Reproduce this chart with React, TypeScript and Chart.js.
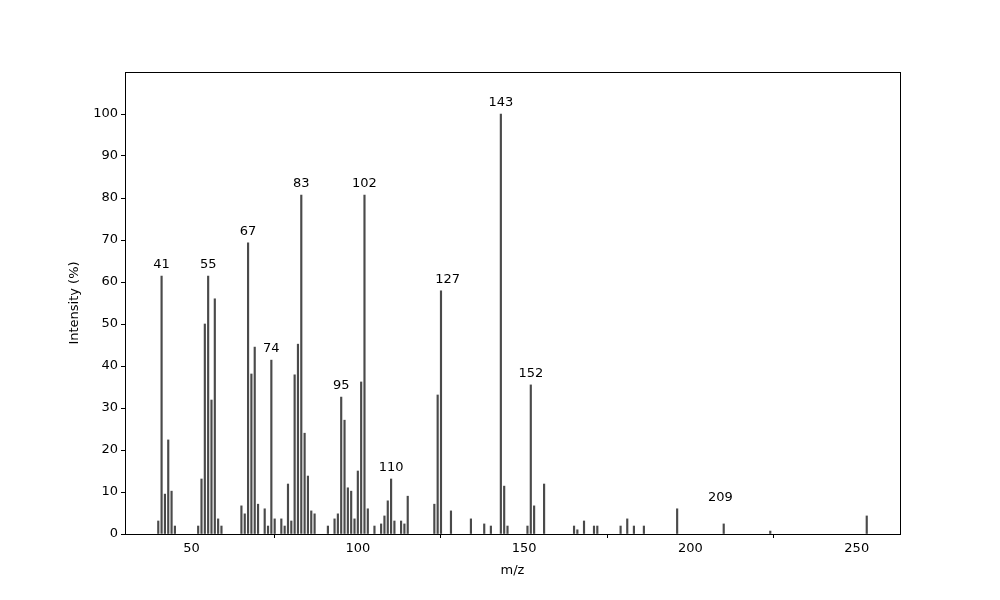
import React, { useEffect, useRef } from "react";
import { Chart, registerables } from "chart.js";

Chart.register(...registerables);

// peak positions (m/z) and relative intensities (%)
const mzValues = [
  40, 41, 42, 43, 44, 45, 52, 53, 54, 55, 56, 57, 58, 59, 65, 66, 67, 68, 69, 70,
  72, 73, 74, 75, 77, 78, 79, 80, 81, 82, 83, 84, 85, 86, 87, 91, 93, 94, 95, 96,
  97, 98, 99, 100, 101, 102, 103, 105, 107, 108, 109, 110, 111, 113, 114, 115,
  123, 124, 125, 128, 134, 138, 140, 143, 144, 145, 151, 152, 153, 156, 165, 166,
  168, 171, 172, 179, 181, 183, 186, 196, 210, 224, 253,
];
const intensities = [
  3.1, 61.4, 9.5, 22.4, 10.2, 1.9, 1.9, 13.1, 50, 61.4, 31.9, 56, 3.6, 1.9, 6.7, 4.8, 69.3, 38.1, 44.5, 7.1,
  6.0, 1.9, 41.4, 3.6, 3.6, 1.9, 11.9, 3.1, 37.9, 45.2, 80.7, 24, 13.8, 5.5, 4.8, 1.9, 3.6, 4.8, 32.6, 27.1,
  11.0, 10.2, 3.6, 15, 36.2, 80.7, 6, 1.9, 2.4, 4.3, 7.9, 13.1, 3.1, 3.1, 2.4, 9.0,
  7.1, 33.1, 57.9, 5.5, 3.6, 2.4, 1.9, 100, 11.4, 1.9, 1.9, 35.5, 6.7, 11.9, 1.9, 1.0,
  3.1, 1.9, 1.9, 1.9, 3.6, 1.9, 1.9, 6.0, 2.4, 0.7, 4.3,
];

// annotated peaks: label text, x position and height the label sits over
const peakLabels = ["41", "55", "67", "74", "83", "95", "102", "110", "127", "143", "152", "209"];
const peakLabelX = [41, 55, 67, 74, 83, 95, 102, 110, 127, 143, 152, 209];
const peakLabelY = [61.4, 61.4, 69.3, 41.4, 80.7, 32.6, 80.7, 13.1, 57.9, 100, 35.5, 6.0];

const xTicks = [50, 100, 150, 200, 250];
const yTicks = [0, 10, 20, 30, 40, 50, 60, 70, 80, 90, 100];

const FONT = "'DejaVu Sans', sans-serif";

// draws the box around the plot and the peak labels
const extrasPlugin = {
  id: "extras",
  afterDatasetsDraw(chart: any) {
    const { ctx, chartArea, scales } = chart;
    ctx.save();
    ctx.strokeStyle = "#000";
    ctx.lineWidth = 1;
    ctx.strokeRect(
      Math.round(chartArea.left) + 0.5,
      Math.round(chartArea.top) + 0.5,
      Math.round(chartArea.right - chartArea.left),
      Math.round(chartArea.bottom - chartArea.top)
    );
    ctx.fillStyle = "#000";
    ctx.font = `13px ${FONT}`;
    ctx.textAlign = "center";
    ctx.textBaseline = "middle";
    peakLabels.forEach((t, i) => {
      const x = scales.x.getPixelForValue(peakLabelX[i]);
      const y = scales.y.getPixelForValue(peakLabelY[i]) - 11;
      ctx.fillText(t, x, y);
    });
    ctx.restore();
  },
};

const App = () => {
  const canvasRef = useRef<HTMLCanvasElement | null>(null);

  useEffect(() => {
    if (!canvasRef.current) return;
    const chart = new Chart(canvasRef.current, {
      type: "bar",
      data: {
        datasets: [
          {
            data: mzValues.map((m, i) => ({ x: m, y: intensities[i] })),
            backgroundColor: "#4a4a4a",
            borderWidth: 0,
            barThickness: 1.5,
          },
        ],
      },
      options: {
        animation: false,
        responsive: false,
        devicePixelRatio: 1,
        layout: { padding: { top: 72, right: 100, left: 0, bottom: 0 } },
        plugins: { legend: { display: false }, tooltip: { enabled: false } },
        scales: {
          x: {
            type: "linear",
            min: 30,
            max: 263,
            offset: false,
            afterFit: (s: any) => {
              s.height = 66;
            },
            afterBuildTicks: (s: any) => {
              s.ticks = xTicks.map((v) => ({ value: v }));
            },
            grid: { drawOnChartArea: false, tickLength: 4, color: "#000" },
            border: { color: "#000" },
            ticks: { color: "#000", padding: 3, maxRotation: 0, font: { family: FONT, size: 13 } },
            title: {
              display: true,
              text: "m/z",
              color: "#000",
              font: { family: FONT, size: 13 },
              padding: { top: 0, bottom: 22 },
            },
          },
          y: {
            min: 0,
            max: 110,
            afterFit: (s: any) => {
              s.width = 125;
            },
            afterBuildTicks: (s: any) => {
              s.ticks = yTicks.map((v) => ({ value: v }));
            },
            grid: { drawOnChartArea: false, tickLength: 4, color: "#000" },
            border: { color: "#000" },
            ticks: { color: "#000", padding: 3, font: { family: FONT, size: 13 } },
            title: {
              display: true,
              text: "Intensity (%)",
              color: "#000",
              font: { family: FONT, size: 13 },
              padding: { top: 67, bottom: 0 },
            },
          },
        },
      },
      plugins: [extrasPlugin],
    });
    return () => chart.destroy();
  }, []);

  return (
    <div style={{ position: "absolute", left: 0, top: 0, width: 1000, height: 600, background: "#fff" }}>
      <canvas ref={canvasRef} width={1000} height={600} />
    </div>
  );
};

export default App;
